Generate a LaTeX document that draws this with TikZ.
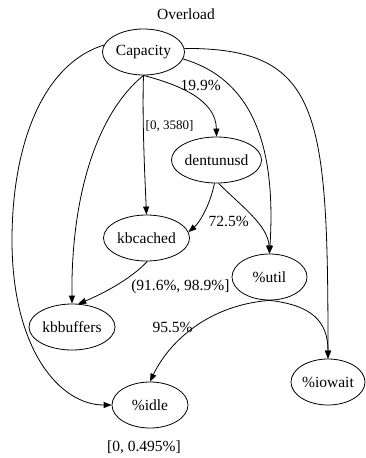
\documentclass[tikz,border=0pt]{standalone}
\usepackage{fontspec}
\setmainfont{Liberation Serif}
\usetikzlibrary{shapes.geometric,arrows.meta,positioning}

\begin{document}
\begin{tikzpicture}[x=1pt, y=-1pt, >={Triangle[length=8pt,width=6pt]},
                    thick, main node/.style={ellipse,draw,inner sep=0pt,minimum height=46pt,font=\fontsize{15.5}{18}\selectfont},
                    edge label/.style={font=\fontsize{15.5}{18}\selectfont,inner sep=2pt}]

  \useasboundingbox (0,0) rectangle (365,458);

  \node[edge label] (title) at (186,14) {Overload};

  \node[main node, minimum width=82pt] (cap) at (143.5,52) {Capacity};
  \node[main node, minimum width=88pt] (dent) at (216.5,160) {dentunusd};
  \node[main node, minimum width=86pt] (kbc) at (146.5,238) {kbcached};
  \node[main node, minimum width=75pt] (util) at (269.5,277) {\%util};
  \node[main node, minimum width=86pt] (kbb) at (72,327) {kbbuffers};
  \node[main node, minimum width=74pt] (iow) at (328,382) {\%iowait};
  \node[main node, minimum width=76pt] (idle) at (150,405) {\%idle};
  \node[edge label] (idlelbl) at (144,447) {[0, 0.495\%]};

  \draw[->] (cap.south) .. controls (95,115) and (71,200) .. (kbb.north);
  \draw[->] (cap.south) .. controls (142,120) and (145,180) .. (kbc.north)
    node[edge label, pos=.35, anchor=west, font=\fontsize{13}{15}\selectfont] {[0, 3580]};
  \draw[->] (cap.south) .. controls (180,85) and (216,100) .. (dent.north)
    node[edge label, pos=.3, anchor=west, xshift=3pt] {19.9\%};
  \draw[->] (cap.-10) .. controls (255,80) and (276,150) .. (util.north);
  \draw[->] (cap.5) .. controls (320,48) and (328,110) .. (iow.north);
  \draw[->] (cap.170) .. controls (40,65) and (12,150) .. (12,240)
    .. controls (12,350) and (60,405) .. (idle.west);

  \draw[->] (dent.-95) .. controls (210,205) and (200,222) .. (kbc.8)
    node[edge label, pos=.7, anchor=west, xshift=8pt] {72.5\%};
  \draw[->] (dent.-85) .. controls (240,205) and (268,225) .. (util.north);

  \draw[->] (kbc.-88) .. controls (130,280) and (100,295) .. (kbb.75)
    node[edge label, pos=.3, anchor=north west] {(91.6\%, 98.9\%]};

  \draw[->] (util.south) .. controls (210,305) and (170,340) .. (idle.north)
    node[edge label, pos=.5, anchor=east] {95.5\%};
  \draw[->] (util.south) .. controls (310,305) and (328,320) .. (iow.north);

\end{tikzpicture}
\end{document}
